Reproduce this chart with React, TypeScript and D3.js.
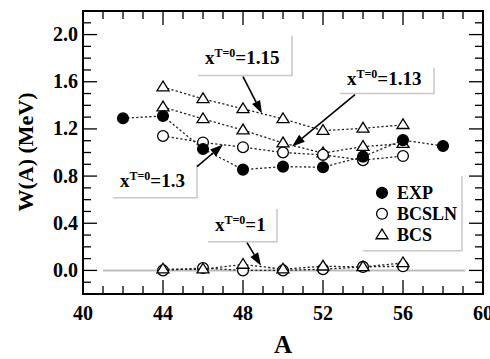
import React from "react";
import * as d3 from "d3";

const massA = [44, 46, 48, 50, 52, 54, 56];
const expA = [42, 44, 46, 48, 50, 52, 54, 56, 58];
const expW = [1.29, 1.31, 1.03, 0.855, 0.88, 0.875, 0.965, 1.105, 1.055];
const bcslnX13 = [1.14, 1.085, 1.045, 1.0, 0.98, 0.935, 0.97];
const bcsX115 = [1.555, 1.455, 1.37, 1.285, 1.185, 1.205, 1.235];
const bcsX113 = [1.385, 1.285, 1.19, 1.08, 0.995, 1.05, 1.075];
const bcslnX1 = [0.0, 0.02, 0.0, 0.0, 0.01, 0.03, 0.035];
const bcsX1 = [0.01, 0.01, 0.05, 0.01, 0.035, 0.03, 0.063];

const xTicks = [40, 44, 48, 52, 56, 60];
const yTicks = [0.0, 0.4, 0.8, 1.2, 1.6, 2.0];
const legendLabels = ["EXP", "BCSLN", "BCS"];

type Ann = {
  value: string;
  box: [number, number, number, number]; // A left, A right, W bottom, W top
  text: [number, number];
  from: [number, number];
  to: [number, number];
};
const annotations: Ann[] = [
  { value: "1.15", box: [45.75, 50.45, 1.652, 1.99], text: [46.1, 1.754], from: [48.0, 1.644], to: [48.95, 1.33] },
  { value: "1.13", box: [52.85, 57.55, 1.5, 1.72], text: [53.2, 1.576], from: [53.6, 1.491], to: [50.45, 1.05] },
  { value: "1.3", box: [41.5, 45.7, 0.617, 0.9], text: [41.85, 0.71], from: [45.7, 0.88], to: [47.0, 1.067] },
  { value: "1", box: [46.25, 49.7, 0.244, 0.52], text: [46.6, 0.337], from: [48.2, 0.235], to: [48.9, 0.04] },
];
const legendBox: [number, number, number, number] = [54.0, 58.95, 0.167, 0.8];
const legendY = [0.658, 0.48, 0.3];

const W = 490;
const H = 359;
const x = d3.scaleLinear().domain([40, 60]).range([83, 483]);
const y = d3.scaleLinear().domain([-0.2, 2.2]).range([294, 11]);

const FONT = "'Liberation Serif', 'Times New Roman', serif";

function Circle({ cx, cy, filled }: { cx: number; cy: number; filled: boolean }) {
  return <circle cx={cx} cy={cy} r={5.4} fill={filled ? "#000" : "#fff"} stroke="#000" strokeWidth={1.3} />;
}
function Tri({ cx, cy }: { cx: number; cy: number }) {
  const s = 6;
  const pts = `${cx},${cy - s} ${cx - s},${cy + s * 0.62} ${cx + s},${cy + s * 0.62}`;
  return <polygon points={pts} fill="#fff" stroke="#000" strokeWidth={1.3} />;
}

function Series({ xs, ys, kind }: { xs: number[]; ys: number[]; kind: "fill" | "open" | "tri" }) {
  const line = d3
    .line<number>()
    .x((_, i) => x(xs[i]))
    .y((d) => y(d));
  return (
    <g>
      <path d={line(ys) || ""} fill="none" stroke="#222" strokeWidth={1.3} strokeDasharray="2.2,2.2" />
      {ys.map((v, i) =>
        kind === "tri" ? (
          <Tri key={i} cx={x(xs[i])} cy={y(v)} />
        ) : (
          <Circle key={i} cx={x(xs[i])} cy={y(v)} filled={kind === "fill"} />
        )
      )}
    </g>
  );
}

function Arrow({ from, to }: { from: [number, number]; to: [number, number] }) {
  const x1 = x(from[0]), y1 = y(from[1]), x2 = x(to[0]), y2 = y(to[1]);
  const ang = Math.atan2(y2 - y1, x2 - x1);
  const L = 13, Wd = 4.5;
  const bx = x2 - L * Math.cos(ang), by = y2 - L * Math.sin(ang);
  const px = -Math.sin(ang) * Wd, py = Math.cos(ang) * Wd;
  return (
    <g>
      <line x1={x1} y1={y1} x2={bx} y2={by} stroke="#000" strokeWidth={1.6} />
      <polygon points={`${x2},${y2} ${bx + px},${by + py} ${bx - px},${by - py}`} fill="#000" />
    </g>
  );
}

function ShadowBox({ b }: { b: [number, number, number, number] }) {
  const l = x(b[0]), r = x(b[1]), bt = y(b[2]), t = y(b[3]);
  return (
    <g fill="none" stroke="#c8c8c8" strokeWidth={1.5}>
      <polyline points={`${l},${bt} ${r},${bt} ${r},${t}`} />
    </g>
  );
}

export default function App() {
  const minorX = d3.range(40, 61, 1);
  const minorY = d3.range(-2, 23, 1).map((v) => v / 10);
  const isMajorX = (v: number) => v % 4 === 0;
  const isMajorY = (v: number) => Math.abs(Math.round(v * 10) % 4) === 0;
  return (
    <svg width={W} height={H} style={{ position: "absolute", left: 0, top: 0, background: "#fff" }} fontFamily={FONT}>
      <rect x={0} y={0} width={W} height={H} fill="#fff" />
      {/* zero reference line */}
      <line x1={x(41)} x2={x(59.1)} y1={y(0)} y2={y(0)} stroke="#bdbdbd" strokeWidth={2} />

      {/* ticks */}
      {minorX.map((v) => {
        const len = isMajorX(v) ? 14 : 8;
        return (
          <g key={"tx" + v} stroke="#000" strokeWidth={1.3}>
            <line x1={x(v)} x2={x(v)} y1={y(-0.2)} y2={y(-0.2) - len} />
            <line x1={x(v)} x2={x(v)} y1={y(2.2)} y2={y(2.2) + len} />
          </g>
        );
      })}
      {minorY.map((v) => {
        const len = isMajorY(v) ? 14 : 8;
        return (
          <g key={"ty" + v} stroke="#000" strokeWidth={1.3}>
            <line x1={x(40)} x2={x(40) + len} y1={y(v)} y2={y(v)} />
            <line x1={x(60)} x2={x(60) - len} y1={y(v)} y2={y(v)} />
          </g>
        );
      })}
      <rect x={x(40)} y={y(2.2)} width={x(60) - x(40)} height={y(-0.2) - y(2.2)} fill="none" stroke="#000" strokeWidth={2} />

      {/* tick labels */}
      {xTicks.map((v) => (
        <text key={"xl" + v} x={x(v)} y={320} textAnchor="middle" fontSize={20} fontWeight="bold">
          {v}
        </text>
      ))}
      {yTicks.map((v) => (
        <text key={"yl" + v} x={78} y={y(v) + 6.5} textAnchor="end" fontSize={20} fontWeight="bold">
          {v.toFixed(1)}
        </text>
      ))}
      <text x={x(50)} y={353} textAnchor="middle" fontSize={25} fontWeight="bold">
        A
      </text>
      <text
        transform={`translate(33,${152}) rotate(-90)`}
        textAnchor="middle"
        fontSize={22}
        fontWeight="bold"
      >
        W(A) (MeV)
      </text>

      {/* series */}
      <Series xs={massA} ys={bcsX115} kind="tri" />
      <Series xs={massA} ys={bcsX113} kind="tri" />
      <Series xs={massA} ys={bcslnX13} kind="open" />
      <Series xs={massA} ys={bcslnX1} kind="open" />
      <Series xs={massA} ys={bcsX1} kind="tri" />
      <Series xs={expA} ys={expW} kind="fill" />

      {/* annotations */}
      {annotations.map((a) => (
        <g key={a.value}>
          <ShadowBox b={a.box} />
          <text x={x(a.text[0])} y={y(a.text[1])} fontSize={19} fontWeight="bold">
            x
            <tspan fontSize={12} dy={-7}>
              T=0
            </tspan>
            <tspan dy={7}>={a.value}</tspan>
          </text>
          <Arrow from={a.from} to={a.to} />
        </g>
      ))}

      {/* legend */}
      <ShadowBox b={legendBox} />
      {legendLabels.map((lab, i) => {
        const cx = x(54.95);
        const cy = y(legendY[i]);
        return (
          <g key={lab}>
            {i === 0 && <Circle cx={cx} cy={cy} filled={true} />}
            {i === 1 && <Circle cx={cx} cy={cy} filled={false} />}
            {i === 2 && <Tri cx={cx} cy={cy} />}
            <text x={x(55.7)} y={cy + 6} fontSize={18} fontWeight="bold">
              {lab}
            </text>
          </g>
        );
      })}
    </svg>
  );
}
